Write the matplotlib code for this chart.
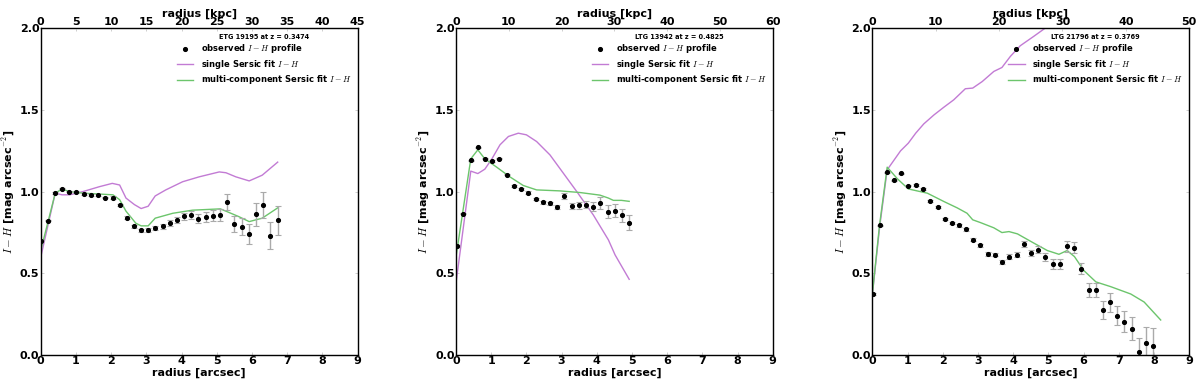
import numpy as np
import matplotlib
matplotlib.use('Agg')
import matplotlib.pyplot as plt
from matplotlib.lines import Line2D

plt.rcParams['mathtext.fontset'] = 'cm'
plt.rcParams['font.weight'] = 'bold'
plt.rcParams['axes.labelweight'] = 'bold'

# ---- ETG 19195 at z = 0.3474 ----
etg_r = [0.0, 0.21, 0.41, 0.60, 0.80, 1.01, 1.22, 1.42, 1.62, 1.82, 2.04, 2.24,
         2.44, 2.64, 2.85, 3.05, 3.25, 3.46, 3.66, 3.86, 4.08, 4.27, 4.47, 4.68,
         4.89, 5.09, 5.29, 5.50, 5.71, 5.91, 6.11, 6.32, 6.52, 6.73]
etg_obs = [0.70, 0.822, 0.992, 1.018, 1.0, 0.998, 0.986, 0.98, 0.98, 0.963, 0.963, 0.918,
           0.839, 0.788, 0.763, 0.765, 0.778, 0.788, 0.808, 0.827, 0.849, 0.855, 0.835, 0.845,
           0.853, 0.855, 0.935, 0.802, 0.786, 0.739, 0.861, 0.920, 0.731, 0.824]
etg_err = [0.005, 0.005, 0.005, 0.005, 0.005, 0.005, 0.005, 0.005, 0.005, 0.005, 0.008, 0.008,
           0.01, 0.01, 0.01, 0.012, 0.012, 0.015, 0.018, 0.02, 0.022, 0.025, 0.028, 0.03,
           0.033, 0.036, 0.05, 0.05, 0.05, 0.06, 0.07, 0.08, 0.08, 0.09]
etg_single_r = [0.0, 0.41, 0.60, 0.82, 1.2, 1.67, 2.03, 2.24, 2.42, 2.66, 2.85, 3.05,
                3.25, 3.55, 4.03, 4.5, 5.07, 5.26, 5.54, 5.92, 6.29, 6.73]
etg_single = [0.60, 0.99, 0.98, 0.98, 1.0, 1.03, 1.05, 1.04, 0.96, 0.92, 0.896, 0.91,
              0.973, 1.01, 1.06, 1.09, 1.12, 1.115, 1.09, 1.065, 1.1, 1.18]
etg_multi_r = [0.0, 0.41, 0.60, 0.82, 1.2, 2.05, 2.24, 2.42, 2.7, 2.85, 3.05, 3.25,
               3.75, 4.31, 5.1, 5.28, 5.62, 5.92, 6.29, 6.73]
etg_multi = [0.64, 0.99, 1.015, 1.0, 0.99, 0.98, 0.95, 0.88, 0.806, 0.79, 0.79, 0.837,
             0.867, 0.886, 0.894, 0.878, 0.847, 0.816, 0.837, 0.90]

# ---- LTG 13942 at z = 0.4825 ----
ltg1_r = [0.02, 0.21, 0.42, 0.62, 0.82, 1.02, 1.23, 1.44, 1.65, 1.85, 2.05, 2.26,
          2.47, 2.68, 2.88, 3.08, 3.29, 3.49, 3.69, 3.90, 4.10, 4.31, 4.52, 4.72, 4.92]
ltg1_obs = [0.667, 0.865, 1.192, 1.271, 1.202, 1.186, 1.202, 1.104, 1.035, 1.018, 0.994, 0.955,
            0.933, 0.929, 0.906, 0.973, 0.912, 0.916, 0.92, 0.908, 0.931, 0.876, 0.882, 0.855, 0.81]
ltg1_err = [0.004, 0.004, 0.004, 0.004, 0.004, 0.004, 0.005, 0.005, 0.006, 0.006, 0.007, 0.008,
            0.009, 0.01, 0.012, 0.02, 0.02, 0.02, 0.022, 0.03, 0.035, 0.04, 0.04, 0.04, 0.045]
ltg1_single_r = [0.0, 0.42, 0.62, 0.82, 1.02, 1.25, 1.49, 1.77, 2.0, 2.29, 2.67, 3.05,
                 3.43, 3.9, 4.33, 4.52, 4.92]
ltg1_single = [0.44, 1.125, 1.11, 1.137, 1.2, 1.286, 1.337, 1.357, 1.347, 1.306, 1.224, 1.112,
               1.0, 0.857, 0.704, 0.612, 0.463]
ltg1_multi_r = [0.0, 0.42, 0.62, 0.82, 1.15, 1.53, 1.91, 2.29, 2.95, 3.52, 4.09, 4.33,
                4.47, 4.7, 4.92]
ltg1_multi = [0.6, 1.2, 1.255, 1.2, 1.15, 1.09, 1.037, 1.01, 1.004, 0.994, 0.978, 0.96,
              0.946, 0.946, 0.94]

# ---- LTG 21796 at z = 0.3769 ----
ltg2_r = [0.02, 0.21, 0.42, 0.62, 0.82, 1.02, 1.23, 1.44, 1.64, 1.85, 2.05, 2.25,
          2.45, 2.66, 2.86, 3.07, 3.28, 3.48, 3.68, 3.89, 4.10, 4.30, 4.51, 4.71,
          4.91, 5.12, 5.33, 5.53, 5.74, 5.94, 6.14, 6.35, 6.55, 6.76, 6.96, 7.16,
          7.37, 7.57, 7.78, 7.98]
ltg2_obs = [0.373, 0.794, 1.118, 1.069, 1.112, 1.035, 1.041, 1.016, 0.943, 0.904, 0.831, 0.808,
            0.794, 0.769, 0.706, 0.671, 0.618, 0.614, 0.569, 0.602, 0.612, 0.678, 0.624, 0.645,
            0.598, 0.555, 0.555, 0.665, 0.657, 0.529, 0.398, 0.398, 0.273, 0.322, 0.241, 0.204,
            0.161, 0.016, 0.073, 0.053]
ltg2_err = [0.004, 0.004, 0.004, 0.004, 0.004, 0.004, 0.005, 0.005, 0.005, 0.006, 0.006, 0.007,
            0.008, 0.008, 0.009, 0.01, 0.01, 0.011, 0.012, 0.013, 0.015, 0.02, 0.02, 0.02,
            0.025, 0.03, 0.03, 0.035, 0.035, 0.035, 0.045, 0.045, 0.055, 0.06, 0.06, 0.065,
            0.07, 0.09, 0.1, 0.11]
ltg2_single_r = [0.0, 0.21, 0.42, 0.62, 0.8, 1.02, 1.23, 1.46, 1.75, 2.03, 2.31, 2.64,
                 2.85, 3.12, 3.45, 3.68, 3.92, 4.2, 4.58, 4.91, 5.2]
ltg2_single = [0.373, 0.79, 1.133, 1.194, 1.249, 1.296, 1.357, 1.414, 1.469, 1.516, 1.561, 1.629,
               1.633, 1.673, 1.735, 1.759, 1.827, 1.892, 1.949, 2.0, 2.05]
ltg2_multi_r = [0.0, 0.2, 0.42, 0.71, 1.02, 1.56, 2.03, 2.41, 2.69, 2.85, 3.07, 3.45,
                3.68, 3.88, 4.12, 4.59, 4.97, 5.3, 5.53, 5.74, 6.01, 6.35, 6.77, 7.34,
                7.72, 8.19]
ltg2_multi = [0.373, 0.79, 1.149, 1.078, 1.016, 0.99, 0.939, 0.9, 0.867, 0.827, 0.81, 0.778,
              0.749, 0.755, 0.741, 0.684, 0.639, 0.616, 0.639, 0.602, 0.516, 0.447, 0.418, 0.373,
              0.324, 0.214]

titles = ['ETG 19195 at z = 0.3474', 'LTG 13942 at z = 0.4825', 'LTG 21796 at z = 0.3769']
kpc_max = [45, 60, 50]
kpc_step = [5, 10, 10]

panels = [
    (etg_r, etg_obs, etg_err, etg_single_r, etg_single, etg_multi_r, etg_multi),
    (ltg1_r, ltg1_obs, ltg1_err, ltg1_single_r, ltg1_single, ltg1_multi_r, ltg1_multi),
    (ltg2_r, ltg2_obs, ltg2_err, ltg2_single_r, ltg2_single, ltg2_multi_r, ltg2_multi),
]

PURPLE = '#c27bd4'
GREEN = '#6cc56c'

fig = plt.figure(figsize=(12, 3.85), dpi=100)
lefts = [0.034, 0.38, 0.727]

for k, (r, obs, err, sr, sv, mr, mv) in enumerate(panels):
    ax = fig.add_axes([lefts[k], 0.078, 0.264, 0.849])
    ax.plot(sr, sv, color=PURPLE, lw=1.0)
    ax.plot(mr, mv, color=GREEN, lw=1.0)
    ax.errorbar(r, obs, yerr=err, fmt='o', color='black', ms=2.7,
                ecolor='#aaaaaa', elinewidth=1.0, capsize=2, capthick=0.8)
    ax.set_xlim(0, 9)
    ax.set_ylim(0, 2)
    ax.set_xticks(range(10))
    ax.set_yticks([0.0, 0.5, 1.0, 1.5, 2.0])
    ax.set_xlabel('radius [arcsec]', fontsize=8, labelpad=1)
    ax.set_ylabel(r'$I-H$ [mag arcsec$^{-2}$]', fontsize=8, labelpad=2)
    ax.tick_params(direction='in', length=2, width=0.5, color='#bbbbbb',
                   labelsize=8, pad=1, right=True)
    for lab in ax.get_xticklabels() + ax.get_yticklabels():
        lab.set_fontweight('bold')
    for sp in ax.spines.values():
        sp.set_color('#333333')
        sp.set_linewidth(1.0)

    top = ax.twiny()
    top.set_xlim(0, kpc_max[k])
    top.set_xticks(np.arange(0, kpc_max[k] + 1, kpc_step[k]))
    top.set_xlabel('radius [kpc]', fontsize=8, labelpad=0)
    top.tick_params(direction='in', length=2, width=0.5, color='#bbbbbb',
                    labelsize=8, pad=1)
    for lab in top.get_xticklabels():
        lab.set_fontweight('bold')

    handles = [
        Line2D([], [], ls='none', marker='o', color='black', ms=2.7),
        Line2D([], [], color=PURPLE, lw=1.0),
        Line2D([], [], color=GREEN, lw=1.0),
    ]
    labels = [r'observed $I-H$ profile', r'single Sersic fit $I-H$',
              r'multi-component Sersic fit $I-H$']
    ax.legend(handles, labels, loc='upper right', frameon=False,
              prop={'size': 6, 'weight': 'bold'}, title=titles[k],
              title_fontproperties={'size': 4.7, 'weight': 'bold'},
              numpoints=1, handlelength=2.0, handletextpad=0.9,
              borderaxespad=0.3, labelspacing=0.3)

plt.savefig('out.png', dpi=100)
